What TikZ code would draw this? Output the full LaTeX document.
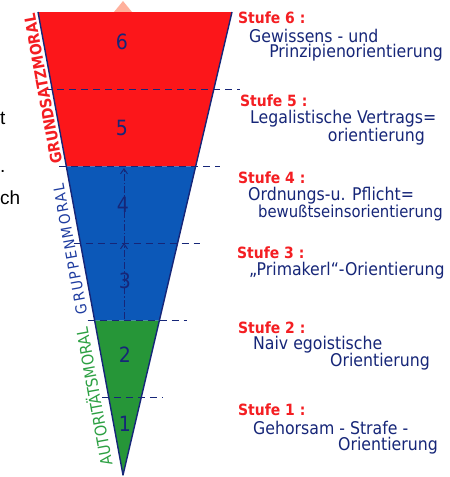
\documentclass[tikz,border=0pt]{standalone}
\usepackage{fontspec}
\setmainfont{DejaVu Sans}
\newfontfamily\handfont{DejaVu Sans Condensed}
\newfontfamily\spacedfont[LetterSpace=12]{DejaVu Sans Condensed}
\newfontfamily\cutfont{Liberation Sans}
\usetikzlibrary{arrows.meta,positioning,calc}

\definecolor{bandred}{RGB}{252,22,26}
\definecolor{bandblue}{RGB}{12,88,184}
\definecolor{bandgreen}{RGB}{38,150,56}
\definecolor{tinte}{RGB}{22,38,120}
\definecolor{stuferot}{RGB}{244,30,34}
\definecolor{gruppblau}{RGB}{30,60,160}
\definecolor{autgruen}{RGB}{44,160,66}
\definecolor{spitze}{RGB}{255,176,156}

\begin{document}
\begin{tikzpicture}[
    x=1pt, y=1pt,
    stufe/.style={anchor=west, inner sep=0pt, text=stuferot, font=\handfont\bfseries\fontsize{15.5}{15.5}\selectfont},
    desc/.style={inner sep=0pt, text=tinte, font=\handfont\fontsize{17.5}{17.5}\selectfont},
    num/.style={inner sep=0pt, text=tinte, font=\handfont\fontsize{21}{21}\selectfont},
    moral/.style={rotate=100.4, inner sep=0pt},
    grenze/.style={draw=tinte, line width=1.1pt, dash pattern=on 7pt off 5pt},
    rand/.style={draw=tinte, line width=1.4pt, line join=round},
    pfeil/.style={-{Straight Barb[length=5pt,width=7pt]}, draw=tinte, line width=1pt, dash pattern=on 7pt off 2pt on 1.5pt off 2pt},
    cut/.style={inner sep=0pt, font=\cutfont\fontsize{19}{19}\selectfont},
]
\fill[white] (0,-477) rectangle (450,0);
\useasboundingbox (0,-477) rectangle (450,0);

% Funnel corners
\coordinate (tl) at (38,-12);
\coordinate (tr) at (232,-12);
\coordinate (tip) at (123,-475);

% Faded tip above the funnel
\fill[spitze] (114,-12) -- (123,-1) -- (132,-12) -- cycle;

% Bands
\fill[bandred] (tl) -- (tr) -- ($(tr)!2/6!(tip)$) -- ($(tl)!2/6!(tip)$) -- cycle;
\fill[bandblue] ($(tl)!2/6!(tip)$) -- ($(tr)!2/6!(tip)$) -- ($(tr)!4/6!(tip)$) -- ($(tl)!4/6!(tip)$) -- cycle;
\fill[bandgreen] ($(tl)!4/6!(tip)$) -- ($(tr)!4/6!(tip)$) -- (tip) -- cycle;

% Stage borders
\foreach \k/\xr in {1/240,2/220,3/200,4/187,5/163} {
    \coordinate (g\k) at ($(tl)!\k/6!(tip)$);
    \draw[grenze] ([xshift=-7pt]g\k) -- (g\k -| \xr,0);
}
\draw[rand] (tl) -- (tip) -- (tr);

% Stage numbers
\node[num] (n6) at (122,-42) {6};
\node[num] (n5) at (122,-128) {5};
\node[num] (n4) at (123,-205) {4};
\node[num] (n3) at (125,-281) {3};
\node[num] (n2) at (125,-355) {2};
\node[num] (n1) at (125,-424) {1};

% Upward steps
\coordinate (s0) at (124,-319);
\coordinate (s1) at (124,-243);
\coordinate (s2) at (124,-168);
\draw[pfeil] (s0) -- (s1);
\draw[pfeil] (s1) -- (s2);

% Moral labels along the edge
\node[moral, text=stuferot, font=\handfont\bfseries\fontsize{15.5}{15.5}\selectfont] (grund) at (43,-89) {GRUNDSATZMORAL};
\node[moral, text=gruppblau, font=\spacedfont\fontsize{15}{15}\selectfont] (grupp) at (70,-249) {GRUPPENMORAL};
\node[moral, text=autgruen, font=\handfont\fontsize{16}{16}\selectfont] (autor) at (93,-397) {AUTORITÄTSMORAL};

% Stage texts
\node[stufe] (st6) at (238,-18) {Stufe 6 :};
\node[desc, anchor=west] (d6a) at (249,-36) {Gewissens - und};
\node[desc, anchor=east] (d6b) at (443,-53) {Prinzipienorientierung};

\node[stufe] (st5) at (240,-101) {Stufe 5 :};
\node[desc, anchor=west] (d5a) at (250,-119) {Legalistische Vertrags=};
\node[desc, anchor=east] (d5b) at (425,-137) {orientierung};

\node[stufe] (st4) at (238,-178) {Stufe 4 :};
\node[desc, anchor=west] (d4a) at (248,-196) {Ordnungs-u. Pflicht=};
\node[desc, anchor=east, font=\handfont\fontsize{16.5}{16.5}\selectfont] (d4b) at (443,-213) {bewußtseinsorientierung};

\node[stufe] (st3) at (237,-253) {Stufe 3 :};
\node[desc, anchor=west] (d3a) at (249,-271) {„Primakerl“-Orientierung};

\node[stufe] (st2) at (238,-328) {Stufe 2 :};
\node[desc, anchor=west] (d2a) at (253,-345) {Naiv egoistische};
\node[desc, anchor=east] (d2b) at (430,-362) {Orientierung};

\node[stufe] (st1) at (238,-410) {Stufe 1 :};
\node[desc, anchor=west] (d1a) at (253,-428) {Gehorsam - Strafe -};
\node[desc, anchor=east] (d1b) at (438,-446) {Orientierung};

% Cut-off text at the left margin
\node[cut, anchor=west] (cut1) at (0,-118) {t};
\node[cut, anchor=west] (cut2) at (0,-171) {.};
\node[cut, anchor=west] (cut3) at (0,-198) {ch};
\end{tikzpicture}
\end{document}
